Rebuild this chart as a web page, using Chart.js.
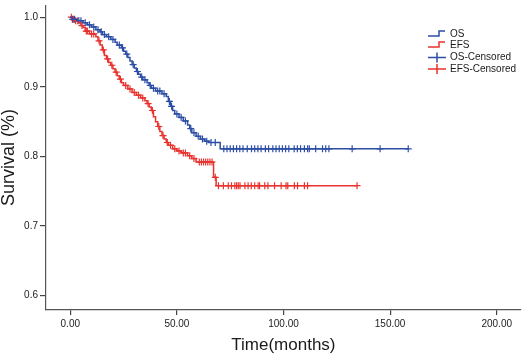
<!DOCTYPE html>
<html>
<head>
<meta charset="utf-8">
<script src="https://cdn.jsdelivr.net/npm/chart.js@4.4.1/dist/chart.umd.min.js"></script>
<style>
html,body{margin:0;padding:0;background:#fff;}
#wrap{width:526px;height:356px;position:relative;}
</style>
</head>
<body>
<div id="wrap"><canvas id="c" width="526" height="356"></canvas></div>
<script>
// ---- data ----
const osTimes = [0, 1, 3, 6, 8, 10, 12, 14, 15, 17, 19, 21, 22, 24, 25, 26, 27, 28, 29, 30, 31, 32, 33, 34, 36, 37, 38, 40, 43, 45, 46, 47, 48, 49, 51, 53, 55, 56, 57, 59, 61, 63, 65, 70.3];
const osSurv  = [1.0, 0.997, 0.995, 0.992, 0.989, 0.986, 0.982, 0.979, 0.975, 0.972, 0.968, 0.964, 0.960, 0.956, 0.951, 0.947, 0.942, 0.937, 0.932, 0.927, 0.922, 0.918, 0.914, 0.910, 0.906, 0.902, 0.898, 0.894, 0.890, 0.886, 0.879, 0.872, 0.866, 0.861, 0.856, 0.851, 0.845, 0.840, 0.834, 0.829, 0.825, 0.822, 0.820, 0.811];
const osCensored = [1, 2, 4, 5, 7, 9, 11, 13, 14.5, 16, 18, 20, 23, 24.5, 26.5, 29.5, 31.5, 33.5, 35, 37.5, 39, 41, 42, 44, 46.5, 47.5, 50, 52, 54, 56.5, 58, 60, 62, 64, 66, 68,
  72, 73.5, 75, 76.5, 78, 79.5, 81, 83, 85, 86.5, 88, 89.5, 91.5, 93, 95, 96.5, 98, 99.5, 101, 102.5, 105, 106.5, 108, 109.8, 111.3, 112.1, 115.1, 118.3, 119.8, 121.3, 132.2, 145.3, 158.5];

const efsTimes = [0, 1, 2, 4, 5, 6, 7, 9, 12, 13, 14, 15, 16, 17, 18, 19, 20, 21, 22, 23, 24, 25, 27, 29, 31, 33, 35, 36, 37, 38, 39, 40, 41, 42, 43, 44, 45, 46, 48, 50, 52, 55, 57, 59, 67.2, 68.4];
const efsSurv  = [1.0, 0.997, 0.995, 0.992, 0.988, 0.985, 0.980, 0.976, 0.972, 0.966, 0.960, 0.953, 0.945, 0.940, 0.935, 0.931, 0.926, 0.921, 0.916, 0.911, 0.906, 0.902, 0.897, 0.892, 0.888, 0.884, 0.880, 0.876, 0.871, 0.866, 0.857, 0.850, 0.843, 0.836, 0.830, 0.825, 0.820, 0.816, 0.811, 0.808, 0.805, 0.801, 0.797, 0.792, 0.770, 0.758];
const efsCensored = [0.5, 1.5, 2.5, 3.5, 5.5, 7.5, 8, 10, 11, 13.5, 15.5, 17.5, 19.5, 21.5, 23.5, 26, 28, 30, 32, 34, 36.5, 38.5, 41.5, 43.5, 45.5, 47, 49, 51, 53, 54, 56, 58,
  60.5, 61.5, 62.5, 63.5, 64.5, 65.5, 66.5, 68,
  69.5, 71.8, 74.1, 75.6, 77.2, 78, 78.8, 79.6, 81.9, 83.4, 84.9, 86.5, 88.1, 88.8, 91.2, 92.7, 95.8, 98.9, 101.2, 102, 105.1, 106.6, 109.8, 111.3, 134.5];

const xTicks = [0, 50, 100, 150, 200];
const yTicks = [0.6, 0.7, 0.8, 0.9, 1.0];
const seriesNames = ['OS', 'EFS', 'OS-Censored', 'EFS-Censored'];

// ---- build library data ----
const BLUE = '#2d4ea6';
const RED = '#e8332f';
function survAt(times, vals, t) {
  let v = vals[0];
  for (let i = 0; i < times.length; i++) { if (times[i] <= t) v = vals[i]; }
  return v;
}
function stepData(times, vals, censored) {
  const pts = times.map((t, i) => ({x: t, y: vals[i]}));
  const last = Math.max(...censored);
  pts.push({x: last, y: vals[vals.length - 1]});
  return pts;
}
const osLine = stepData(osTimes, osSurv, osCensored);
const efsLine = stepData(efsTimes, efsSurv, efsCensored);
const osMarks = osCensored.map(t => ({x: t, y: survAt(osTimes, osSurv, t)}));
const efsMarks = efsCensored.map(t => ({x: t, y: survAt(efsTimes, efsSurv, t)}));

const FONT = "'Liberation Sans', Arial, sans-serif";

const legendPlugin = {
  id: 'kmLegend',
  afterDraw(chart) {
    const ctx = chart.ctx;
    ctx.save();
    ctx.font = '10px ' + FONT;
    ctx.fillStyle = '#1a1a1a';
    ctx.textBaseline = 'middle';
    ctx.textAlign = 'left';
    const rows = [
      {y: 34, type: 'step', color: BLUE},
      {y: 45, type: 'step', color: RED},
      {y: 57.5, type: 'cross', color: BLUE},
      {y: 69, type: 'cross', color: RED}
    ];
    rows.forEach((r, i) => {
      ctx.strokeStyle = r.color;
      ctx.lineWidth = 1.5;
      ctx.beginPath();
      if (r.type === 'step') {
        ctx.moveTo(428, r.y + 2);
        ctx.lineTo(439, r.y + 2);
        ctx.lineTo(439, r.y - 3);
        ctx.lineTo(445, r.y - 3);
      } else {
        ctx.moveTo(428, r.y);
        ctx.lineTo(446, r.y);
        ctx.moveTo(437, r.y - 5);
        ctx.lineTo(437, r.y + 5);
      }
      ctx.stroke();
      ctx.fillText(seriesNames[i], 450, r.y);
    });
    ctx.restore();
  }
};

new Chart(document.getElementById('c'), {
  type: 'scatter',
  data: {
    datasets: [
      {label: seriesNames[0], data: osLine, showLine: true, stepped: 'before', borderColor: BLUE, borderWidth: 1.5, pointRadius: 0, fill: false},
      {label: seriesNames[1], data: efsLine, showLine: true, stepped: 'before', borderColor: RED, borderWidth: 1.5, pointRadius: 0, fill: false},
      {label: seriesNames[2], data: osMarks, showLine: false, pointStyle: 'cross', pointRadius: 3.5, borderColor: BLUE, borderWidth: 1.2},
      {label: seriesNames[3], data: efsMarks, showLine: false, pointStyle: 'cross', pointRadius: 3.5, borderColor: RED, borderWidth: 1.2}
    ]
  },
  options: {
    responsive: false,
    animation: false,
    layout: {padding: {top: 1, right: 1, left: 0, bottom: 0}},
    plugins: {legend: {display: false}, tooltip: {enabled: false}},
    scales: {
      x: {
        type: 'linear',
        min: -11.39, max: 211.3,
        afterBuildTicks: s => { s.ticks = xTicks.map(v => ({value: v})); },
        afterFit: s => { s.height = 46; s.paddingLeft = 0; s.paddingRight = 0; },
        grid: {drawOnChartArea: false, drawTicks: true, tickLength: 5, color: '#444', lineWidth: 1.2},
        border: {display: true, color: '#555', width: 1.2},
        ticks: {padding: 3, color: '#222', font: {family: FONT, size: 10}, callback: v => Number(v).toFixed(2), maxRotation: 0, autoSkip: false},
        title: {display: true, text: 'Time(months)', color: '#1a1a1a', font: {family: FONT, size: 17}, padding: {top: 0, bottom: 0}}
      },
      y: {
        type: 'linear',
        min: 0.5795, max: 1.0172,
        afterBuildTicks: s => { s.ticks = yTicks.map(v => ({value: v})); },
        afterFit: s => { s.width = 46; s.paddingTop = 0; s.paddingBottom = 0; },
        grid: {drawOnChartArea: false, drawTicks: true, tickLength: 6, color: '#444', lineWidth: 1.2},
        border: {display: true, color: '#555', width: 1.2},
        ticks: {padding: 2, color: '#222', font: {family: FONT, size: 10}, callback: v => Number(v).toFixed(1), autoSkip: false},
        title: {display: true, text: 'Survival (%)', color: '#1a1a1a', font: {family: FONT, size: 18, lineHeight: 1}, padding: {top: 0, bottom: 0}}
      }
    }
  },
  plugins: [legendPlugin]
});
</script>
</body>
</html>
